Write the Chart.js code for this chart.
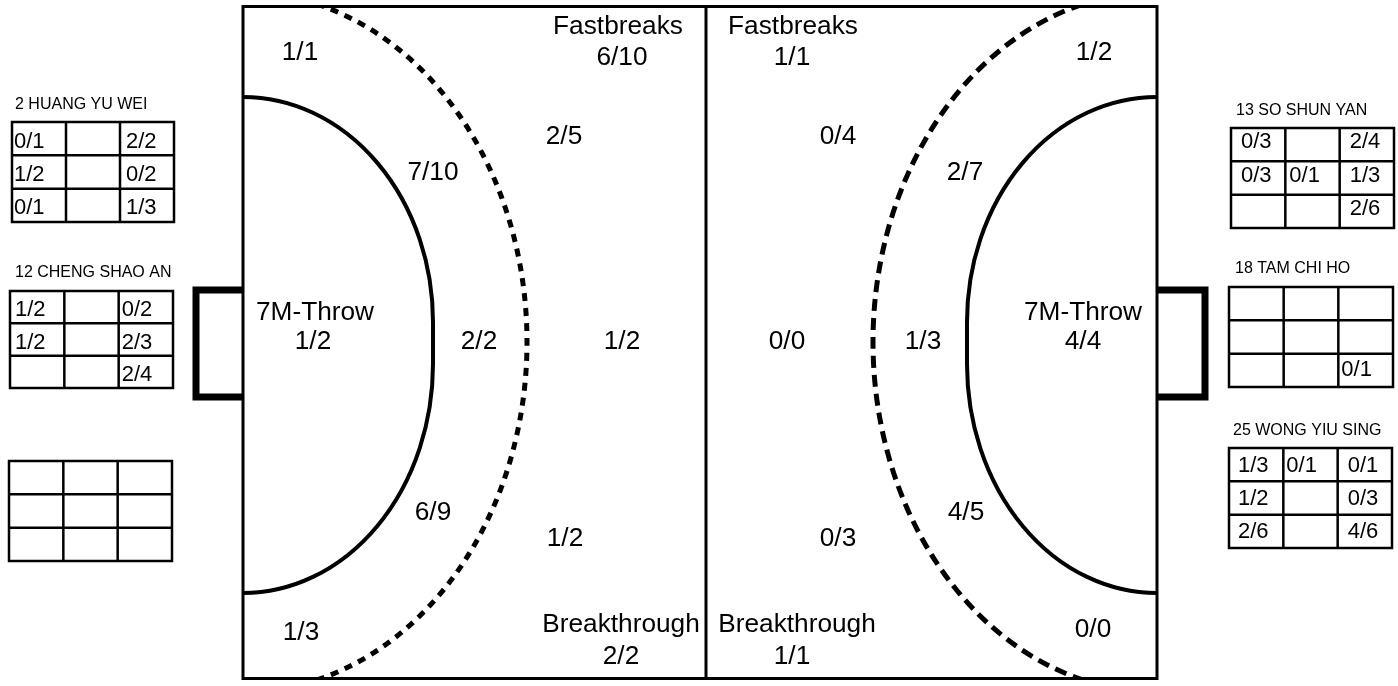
<!DOCTYPE html>
<html><head><meta charset="utf-8">
<script src="https://cdn.jsdelivr.net/npm/chart.js@4/dist/chart.umd.min.js"></script>
<style>html,body{margin:0;padding:0;background:#fff;}#wrap{width:1398px;height:686px;position:relative;}</style>
</head><body><div id="wrap"><canvas id="c"></canvas></div>
<script>
// ---------------- DATA ----------------
const zoneNames = ['Wing top','Fastbreaks','Back top','6m top','7M-Throw','6m centre','9m centre','6m bottom','Back bottom','Wing bottom','Breakthrough'];
const leftValues  = ['1/1','6/10','2/5','7/10','1/2','2/2','1/2','6/9','1/2','1/3','2/2'];
const rightValues = ['1/2','1/1','0/4','2/7','4/4','1/3','0/0','4/5','0/3','0/0','1/1'];
const headingNames = ['Fastbreaks','7M-Throw','Breakthrough'];

const playerNames = ['2 HUANG YU WEI','12 CHENG SHAO AN','','13 SO SHUN YAN','18 TAM CHI HO','25 WONG YIU SING'];
const goalHuang  = [['0/1','','2/2'],['1/2','','0/2'],['0/1','','1/3']];
const goalCheng  = [['1/2','','0/2'],['1/2','','2/3'],['','','2/4']];
const goalBlank  = [['','',''],['','',''],['','','']];
const goalSo     = [['0/3','','2/4'],['0/3','0/1','1/3'],['','','2/6']];
const goalTam    = [['','',''],['','',''],['','','0/1']];
const goalWong   = [['1/3','0/1','0/1'],['1/2','','0/3'],['2/6','','4/6']];
const goalTables = [goalHuang, goalCheng, goalBlank, goalSo, goalTam, goalWong];

// ---------------- LAYOUT (canvas units) ----------------
const leftX  = [300,622,564,433,313,479,622,433,565,301,621];
const leftY  = [53,58,137,173,342,342,342,513,539,633,657];
const rightX = [1094,792,838,965,1083,923,787,966,838,1093,792];
const rightY = [53,58,137,173,342,342,342,513,539,630,657];
const headingIdx = [1,4,10];
const leftHeadX = [618,315,621], rightHeadX = [793,1083,797];
const headY = [27,313,625];

const tableBox = [[12,122,162,100],[10,291,163,97],[9,461,163,100],[1231,128,163,100],[1229,287,164,100],[1229,448,163,100]];
const titlePos = [[15,105],[15,273],null,[1236,111],[1235,269],[1233,431]];
const cellPad = [[2,4,6],[5,4,3],[4,4,4],[10,4,10],[10,4,3],[9,3,10]];
const cellDy = [3,3,0,-2.5,0,1];

const court = {x0:243, x1:1157, y0:6.5, y1:678.5, mid:706, cy:342};

function courtPlugin() {
  return {
    id:'court',
    beforeDatasetsDraw(chart) {
      const ctx = chart.ctx, xs = chart.scales.x, ys = chart.scales.y;
      const X = v => xs.getPixelForValue(v), Y = v => ys.getPixelForValue(v);
      const RX = r => Math.abs(X(r) - X(0)), RY = r => Math.abs(Y(r) - Y(0));
      ctx.save();
      ctx.fillStyle = '#fff';
      ctx.fillRect(0,0,chart.width,chart.height);
      ctx.strokeStyle = '#000';
      // goals
      ctx.lineWidth = 7; ctx.lineJoin = 'miter';
      ctx.beginPath();
      ctx.moveTo(X(court.x0), Y(290)); ctx.lineTo(X(196), Y(290)); ctx.lineTo(X(196), Y(397)); ctx.lineTo(X(court.x0), Y(397));
      ctx.moveTo(X(court.x1), Y(290)); ctx.lineTo(X(1205), Y(290)); ctx.lineTo(X(1205), Y(397)); ctx.lineTo(X(court.x1), Y(397));
      ctx.stroke();
      // solid 6m lines
      ctx.lineWidth = 4;
      [[court.x0, 1],[court.x1, -1]].forEach(([gx, s]) => {
        ctx.save();
        ctx.translate(X(gx), 0);
        ctx.scale(s, 1);
        ctx.beginPath();
        ctx.ellipse(0, Y(322), RX(190), RY(225), 0, -Math.PI/2, 0);
        ctx.lineTo(RX(190), Y(364));
        ctx.ellipse(0, Y(364), RX(190), RY(229), 0, 0, Math.PI/2);
        ctx.restore();
        ctx.stroke();
      });
      // dashed 9m lines
      ctx.save();
      ctx.beginPath();
      ctx.rect(X(court.x0), Y(court.y0), X(court.x1)-X(court.x0), Y(court.y1)-Y(court.y0));
      ctx.clip();
      ctx.lineWidth = 5;
      [[court.x0, 1, [8,7]],[court.x1, -1, [12,7]]].forEach(([gx, s, dash]) => {
        ctx.save();
        ctx.translate(X(gx), 0);
        ctx.scale(s, 1);
        ctx.beginPath();
        ctx.ellipse(0, Y(court.cy), RX(284), RY(350), 0, -Math.PI/2, Math.PI/2);
        ctx.restore();
        ctx.setLineDash(dash);
        ctx.stroke();
      });
      ctx.restore();
      // court border + midline
      ctx.setLineDash([]);
      ctx.lineWidth = 3;
      ctx.strokeRect(X(court.x0), Y(court.y0), X(court.x1)-X(court.x0), Y(court.y1)-Y(court.y0));
      ctx.beginPath();
      ctx.moveTo(X(court.mid), Y(court.y0)); ctx.lineTo(X(court.mid), Y(court.y1));
      ctx.stroke();
      // player goal tables
      goalTables.forEach((tbl, t) => {
        const [bx, by, bw, bh] = tableBox[t];
        const cw = bw/3, ch = bh/3;
        ctx.lineWidth = 2.5;
        ctx.strokeStyle = '#000';
        ctx.strokeRect(X(bx), Y(by), X(bx+bw)-X(bx), Y(by+bh)-Y(by));
        ctx.beginPath();
        for (let k=1;k<3;k++) {
          ctx.moveTo(X(bx+k*cw), Y(by)); ctx.lineTo(X(bx+k*cw), Y(by+bh));
          ctx.moveTo(X(bx), Y(by+k*ch)); ctx.lineTo(X(bx+bw), Y(by+k*ch));
        }
        ctx.stroke();
        ctx.fillStyle = '#000';
        ctx.font = '22px "Liberation Sans", Arial, sans-serif';
        ctx.textAlign = 'left'; ctx.textBaseline = 'middle';
        tbl.forEach((row, r) => row.forEach((v, c) => {
          if (!v) return;
          ctx.fillText(v, X(bx + c*cw + cellPad[t][c]), Y(by + (r+0.5)*ch + cellDy[t]));
        }));
        if (playerNames[t] && titlePos[t]) {
          ctx.font = '16px "Liberation Sans", Arial, sans-serif';
          ctx.fillText(playerNames[t], X(titlePos[t][0]), Y(titlePos[t][1]));
        }
      });
      ctx.restore();
    },
    afterDatasetsDraw(chart) {
      const ctx = chart.ctx;
      ctx.save();
      ctx.fillStyle = '#000';
      ctx.font = '25px "Liberation Sans", Arial, sans-serif';
      ctx.textAlign = 'center'; ctx.textBaseline = 'middle';
      const draw = (txt, px, py) => {
        ctx.save(); ctx.translate(px, py); ctx.scale(1.05, 1); ctx.fillText(txt, 0, 0); ctx.restore();
      };
      chart.data.datasets.forEach((ds, di) => {
        const meta = chart.getDatasetMeta(di);
        meta.data.forEach((pt, i) => draw(ds.labels[i], pt.x, pt.y));
      });
      ctx.restore();
    }
  };
}

const mk = (xs, ys) => xs.map((x, i) => ({x, y: ys[i]}));
const headLabels = headingIdx.map((zi, k) => headingNames[k]);

new Chart(document.getElementById('c'), {
  type: 'scatter',
  data: {
    datasets: [
      {label:'Left values', data: mk(leftX, leftY), labels: leftValues, pointRadius:0},
      {label:'Right values', data: mk(rightX, rightY), labels: rightValues, pointRadius:0},
      {label:'Left headings', data: mk(leftHeadX, headY), labels: headLabels, pointRadius:0},
      {label:'Right headings', data: mk(rightHeadX, headY), labels: headLabels, pointRadius:0}
    ]
  },
  options: {
    responsive: true, maintainAspectRatio: false, animation: false,
    layout: {padding: 0},
    events: [],
    plugins: {legend:{display:false}, tooltip:{enabled:false}},
    scales: {
      x: {type:'linear', min:0, max:1398, display:false},
      y: {type:'linear', min:0, max:686, reverse:true, display:false}
    }
  },
  plugins: [courtPlugin()]
});
</script>
</body></html>
